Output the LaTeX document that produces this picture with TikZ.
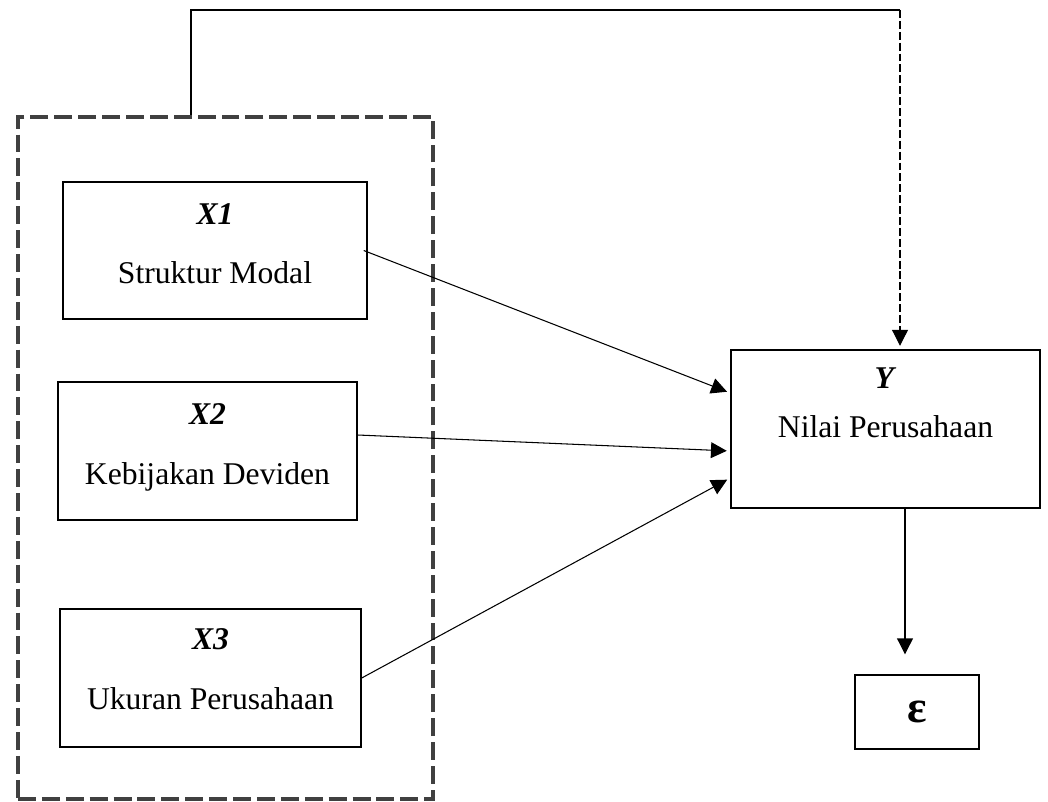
\documentclass[tikz,border=0pt]{standalone}
\usepackage{fontspec}
\setmainfont{Liberation Serif}
\usetikzlibrary{arrows.meta}
\definecolor{framegray}{HTML}{404040}
\tikzset{
  varbox/.style={draw, rectangle, line width=0.8pt, align=center, font=\fontsize{18}{22}\selectfont},
  link/.style={line width=0.6pt, -{Triangle[length=9pt, width=9pt]}},
}

\begin{document}
\begin{tikzpicture}
  \useasboundingbox (0,0) rectangle (20.96,-16.02);
  \node[draw=framegray, rectangle, line width=2.8pt, dash pattern=on 10.2pt off 3.4pt, minimum width=8.3cm, minimum height=13.64cm] at (4.51,-9.16) (grp) {};

  \node[varbox, minimum width=6.08cm, minimum height=2.74cm] at (4.30,-5.01) (x1) {\textbf{\textit{X1}}\\[12pt]Struktur Modal\\[-14pt]\mbox{}};
  \node[varbox, minimum width=5.98cm, minimum height=2.76cm] at (4.15,-9.02) (x2) {\textbf{\textit{X2}}\\[12pt]Kebijakan Deviden\\[-14pt]\mbox{}};
  \node[varbox, minimum width=6.02cm, minimum height=2.76cm] at (4.21,-13.56) (x3) {\textbf{\textit{X3}}\\[12pt]Ukuran Perusahaan\\[-12pt]\mbox{}};
  \node[varbox, minimum width=6.18cm, minimum height=3.16cm] at (17.71,-8.58) (y) {\textbf{\textit{Y}}\\[6pt]Nilai Perusahaan\\[8pt]\mbox{}};
  \node[varbox, minimum width=2.48cm, minimum height=1.48cm, font=\fontsize{26}{30}\selectfont] at (18.34,-14.24) (eps) {\textbf{ε}};

  \draw[link, shorten >=2pt] ([xshift=-0.08cm]x1.east) -- ([yshift=0.72cm]y.west);
  \draw[link, shorten >=2pt] ([yshift=0.32cm]x2.east) -- ([yshift=-0.44cm]y.west);
  \draw[link, shorten >=2pt] (x3.east) -- ([yshift=-0.98cm]y.west);

  \coordinate (ydrop) at ([xshift=0.39cm]y.south);
  \draw[link, shorten >=0.4cm] (ydrop) -- (ydrop |- eps.north);

  \coordinate (tl) at (3.82,-0.2);
  \coordinate (tr) at (18.0,-0.2);
  \draw[line width=0.6pt] (tl |- grp.north) -- (tl) -- (tr);
  \draw[link, dash pattern=on 4.5pt off 1.7pt, shorten >=2pt] (tr) -- (tr |- y.north);
\end{tikzpicture}
\end{document}
